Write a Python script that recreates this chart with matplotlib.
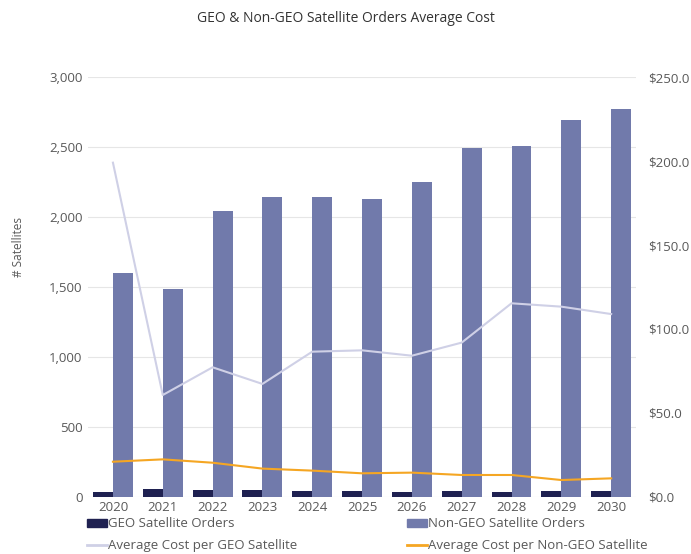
import matplotlib
matplotlib.use("Agg")
import matplotlib.pyplot as plt
import numpy as np
from matplotlib.ticker import FuncFormatter, MultipleLocator
from matplotlib.patches import Patch
from matplotlib.lines import Line2D

plt.rcParams['font.family'] = ['Open Sans', 'DejaVu Sans']

years = ['2020', '2021', '2022', '2023', '2024', '2025', '2026', '2027', '2028', '2029', '2030']
geo_orders = [38, 55, 50, 48, 45, 45, 36, 41, 34, 41, 45]
non_geo_orders = [1600, 1485, 2040, 2145, 2140, 2130, 2250, 2495, 2505, 2695, 2770]
geo_avg_cost = [199.0, 60.7, 77.2, 67.3, 86.5, 87.3, 84.1, 91.9, 115.3, 113.3, 108.9]
non_geo_avg_cost = [21.0, 22.4, 20.4, 16.9, 15.7, 14.1, 14.5, 13.1, 13.1, 10.1, 11.1]

c_geo = '#1f2151'
c_nongeo = '#717aab'
c_geo_line = '#cfd0e6'
c_nongeo_line = '#f5a623'
c_text = '#595959'

fig = plt.figure(figsize=(6.91, 5.54), dpi=100)
ax = fig.add_axes([0.1274, 0.1029, 0.7931, 0.7581])
x = np.arange(len(years))
w = 0.4

ax.bar(x - w / 2, geo_orders, width=w, color=c_geo, zorder=2)
ax.bar(x + w / 2, non_geo_orders, width=w, color=c_nongeo, zorder=2)

ax.set_xlim(-0.5, len(years) - 0.5)
ax.set_ylim(0, 3000)
ax.yaxis.set_major_locator(MultipleLocator(500))
ax.yaxis.set_major_formatter(FuncFormatter(lambda v, p: f'{int(v):,}'))
ax.set_xticks(x)
ax.set_xticklabels(years)
ax.grid(axis='y', color='#e6e6e6', linewidth=0.8, zorder=0)
for s in ax.spines.values():
    s.set_visible(False)
ax.tick_params(axis='both', length=0, colors=c_text, labelsize=9.5)
ax.tick_params(axis='x', pad=3)
ax.tick_params(axis='y', pad=4)
ax.set_ylabel('# Satellites', color=c_text, fontsize=8.5)
ax.yaxis.set_label_coords(-0.115, 0.595)

ax2 = ax.twinx()
ax2.plot(x, geo_avg_cost, color=c_geo_line, linewidth=1.5, zorder=3)
ax2.plot(x, non_geo_avg_cost, color=c_nongeo_line, linewidth=1.5, zorder=3)
ax2.set_ylim(0, 250)
ax2.yaxis.set_major_locator(MultipleLocator(50))
ax2.yaxis.set_major_formatter(FuncFormatter(lambda v, p: f'${v:.1f}'))
for s in ax2.spines.values():
    s.set_visible(False)
ax2.tick_params(axis='y', length=0, colors=c_text, labelsize=9.5, pad=9)

fig.suptitle('GEO & Non-GEO Satellite Orders Average Cost', x=0.5, y=0.98,
             fontsize=10, color='#333333', fontweight='medium')

# Legend entries are listed column by column so rows read left to right
handles = [Patch(color=c_geo),
           Line2D([], [], color=c_geo_line, linewidth=2),
           Patch(color=c_nongeo),
           Line2D([], [], color=c_nongeo_line, linewidth=2)]
labels = ['GEO Satellite Orders', 'Average Cost per GEO Satellite',
          'Non-GEO Satellite Orders', 'Average Cost per Non-GEO Satellite']
fig.legend(handles, labels, ncol=2, loc='upper left', bbox_to_anchor=(0.126, 0.066),
           frameon=False, fontsize=9.5, labelcolor=c_text, handlelength=1.5,
           handletextpad=0.1, columnspacing=8.3, borderaxespad=0, borderpad=0,
           labelspacing=0.65, handleheight=0.6)

fig.savefig('out.png', dpi=100)
